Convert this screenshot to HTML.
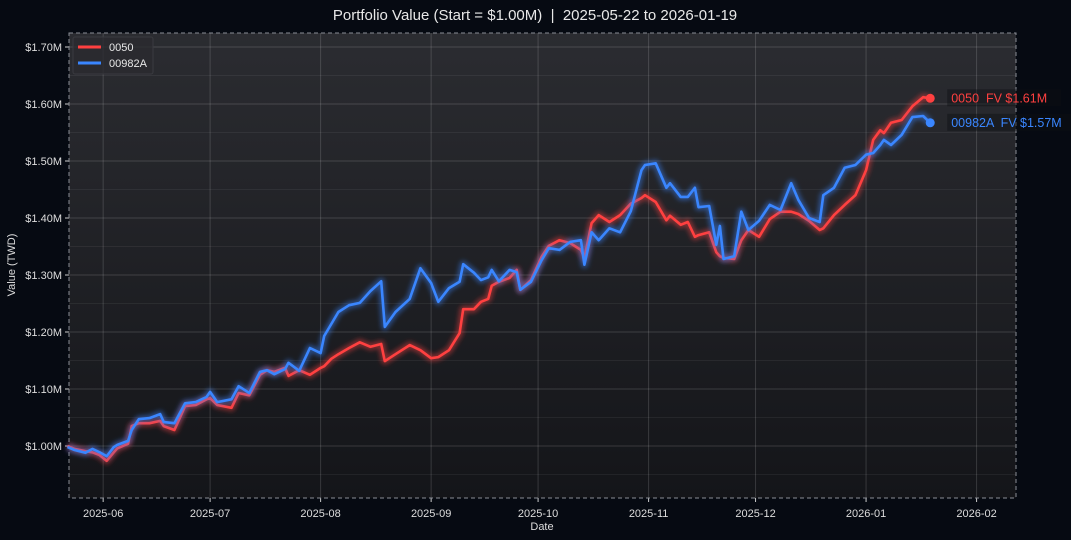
<!DOCTYPE html>
<html><head><meta charset="utf-8"><style>
html,body{margin:0;padding:0;background:#060a12;}
svg{display:block;font-family:"Liberation Sans","DejaVu Sans",sans-serif;}
text{white-space:pre;}
</style></head><body>
<svg id="chart" width="1071" height="540" viewBox="0 0 1071 540">
<defs>
<linearGradient id="bg" x1="0" y1="0" x2="0" y2="1">
<stop offset="0" stop-color="#2b2c31"/><stop offset="1" stop-color="#141519"/>
</linearGradient>
<filter id="glow" x="-5%" y="-5%" width="110%" height="110%"><feGaussianBlur stdDeviation="2.5"/></filter>
</defs>
<rect x="0" y="0" width="1071" height="540" fill="#060a12"/>
<text x="535" y="20" text-anchor="middle" fill="#e8e8e8" font-size="15" xml:space="preserve">Portfolio Value (Start = $1.00M)  |  2025-05-22 to 2026-01-19</text>
<g id="plot"></g>
</svg>
<script>
const days = [0,2,5,7,9,11,13,14,17,18,20,23,26,27,30,33,36,39,40,42,46,48,51,54,56,58,61,62,65,68,71,72,74,76,79,82,85,88,89,92,96,99,102,104,107,110,111,114,116,118,119,121,124,126,127,130,133,135,138,141,144,145,147,149,152,155,158,161,162,165,168,169,172,174,176,177,180,182,183,184,187,189,191,194,197,200,203,205,208,211,212,215,218,221,224,226,228,229,231,234,237,240,242];
const series0050 = [1.000,0.995,0.991,0.989,0.984,0.974,0.989,0.996,1.004,1.035,1.040,1.040,1.044,1.035,1.028,1.070,1.072,1.082,1.084,1.072,1.067,1.093,1.089,1.125,1.133,1.130,1.137,1.123,1.133,1.125,1.137,1.140,1.153,1.161,1.172,1.182,1.174,1.179,1.149,1.161,1.177,1.168,1.154,1.156,1.168,1.198,1.240,1.240,1.253,1.258,1.281,1.288,1.295,1.309,1.274,1.291,1.332,1.351,1.361,1.356,1.344,1.330,1.391,1.405,1.393,1.405,1.425,1.435,1.440,1.428,1.396,1.404,1.388,1.393,1.367,1.370,1.375,1.340,1.333,1.330,1.328,1.361,1.379,1.367,1.398,1.411,1.411,1.407,1.395,1.379,1.382,1.405,1.423,1.440,1.484,1.537,1.554,1.549,1.567,1.572,1.596,1.612,1.610];
const series00982A = [0.998,0.993,0.988,0.995,0.989,0.982,0.998,1.002,1.009,1.028,1.047,1.049,1.056,1.042,1.040,1.075,1.077,1.086,1.095,1.077,1.082,1.105,1.093,1.130,1.133,1.126,1.135,1.146,1.132,1.172,1.163,1.193,1.214,1.235,1.247,1.251,1.272,1.289,1.209,1.235,1.258,1.312,1.286,1.253,1.277,1.288,1.319,1.304,1.291,1.296,1.309,1.289,1.309,1.305,1.274,1.288,1.326,1.347,1.344,1.358,1.361,1.318,1.375,1.361,1.382,1.375,1.412,1.484,1.493,1.496,1.453,1.461,1.437,1.437,1.453,1.419,1.421,1.353,1.386,1.328,1.333,1.411,1.379,1.395,1.423,1.414,1.461,1.432,1.400,1.393,1.440,1.453,1.488,1.493,1.511,1.514,1.528,1.537,1.528,1.546,1.577,1.579,1.567];
const yTicks = [1.0,1.1,1.2,1.3,1.4,1.5,1.6,1.7];
const yTickLabels = ["$1.00M","$1.10M","$1.20M","$1.30M","$1.40M","$1.50M","$1.60M","$1.70M"];
const xTickDays = [10,40,71,102,132,163,193,224,255];
const xTickLabels = ["2025-06","2025-07","2025-08","2025-09","2025-10","2025-11","2025-12","2026-01","2026-02"];
const seriesNames = ["0050","00982A"];

const L=69,R=1016,T=33,B=498;
const x = d => 67.5 + d*3.565;
const y = v => 446 - (v-1.0)*570;
const NS="http://www.w3.org/2000/svg";
const g=document.getElementById('plot');
function mk(tag,attrs,parent){const e=document.createElementNS(NS,tag);for(const k in attrs)e.setAttribute(k,attrs[k]);(parent||g).appendChild(e);return e;}

let e=mk('rect',{x:L,y:T,width:R-L,height:B-T,fill:'url(#bg)'});


for(let v=0.95;v<1.75;v+=0.1){e=mk('line',{x1:L,x2:R,y1:y(v),y2:y(v),stroke:'#ffffff',"stroke-opacity":0.06,"stroke-width":1});

}
yTicks.forEach((v,i)=>{
 e=mk('line',{x1:L,x2:R,y1:y(v),y2:y(v),stroke:'#ffffff',"stroke-opacity":0.15,"stroke-width":1});
 
 
 e=mk('line',{x1:L-4,x2:L,y1:y(v),y2:y(v),stroke:'#cccccc'});
 
 
 e=mk('text',{x:L-7,y:y(v)+4,"text-anchor":'end',fill:'#dddddd',"font-size":11});
 e.textContent=yTickLabels[i];
 
 
});
xTickDays.forEach((d,i)=>{
 e=mk('line',{x1:x(d),x2:x(d),y1:T,y2:B,stroke:'#ffffff',"stroke-opacity":0.15,"stroke-width":1});
 
 
 e=mk('line',{x1:x(d),x2:x(d),y1:B,y2:B+4,stroke:'#cccccc'});
 
 
 e=mk('text',{x:x(d),y:B+19,"text-anchor":'middle',fill:'#dddddd',"font-size":11});
 e.textContent=xTickLabels[i];
 
 
});
e=mk('rect',{x:L,y:T,width:R-L,height:B-T,fill:'none',stroke:'#8a8d95',"stroke-dasharray":'4,3',"stroke-width":1});



const colors=['#ff4040','#3a86ff'];
[series0050,series00982A].forEach((s,si)=>{
 const pts=s.map((v,i)=>x(days[i]).toFixed(1)+','+y(v).toFixed(1)).join(' ');
 e=mk('polyline',{points:pts,fill:'none',stroke:colors[si],"stroke-width":7,"stroke-opacity":0.45,filter:'url(#glow)',"stroke-linejoin":'round'});
 
 
 e=mk('polyline',{points:pts,fill:'none',stroke:colors[si],"stroke-width":2.6,"stroke-linejoin":'round'});
 
 
 const last=s[s.length-1], ld=days[days.length-1];
 e=mk('circle',{cx:x(ld),cy:y(last),r:4.5,fill:colors[si]});
 
 
 const lbl=seriesNames[si]+'  FV $'+last.toFixed(2)+'M';
 const w=lbl.length*7.2+6;
 e=mk('rect',{x:x(ld)+17,y:y(last)-9,width:w,height:17,fill:'#0d0f14',"fill-opacity":0.45});
 
 
 e=mk('text',{x:x(ld)+21,y:y(last)+4,fill:colors[si],"font-size":12.5});
 e.textContent=lbl;
 
 
});

e=mk('rect',{x:73,y:37,width:80,height:37,fill:'#2a2b30',"fill-opacity":0.8,stroke:'#3a3b40',rx:2});


seriesNames.forEach((n,i)=>{
 e=mk('line',{x1:78,x2:101,y1:47+i*16,y2:47+i*16,stroke:colors[i],"stroke-width":3});
 
 
 e=mk('text',{x:109,y:51+i*16,fill:'#e8e8e8',"font-size":11});
 e.textContent=n;
 
 
});

e=mk('text',{x:542,y:530,"text-anchor":'middle',fill:'#dddddd',"font-size":11});
e.textContent='Date';


e=mk('text',{x:15,y:265,"text-anchor":'middle',fill:'#dddddd',"font-size":11,transform:'rotate(-90 15 265)'});
e.textContent='Value (TWD)';


</script>
</body></html>
